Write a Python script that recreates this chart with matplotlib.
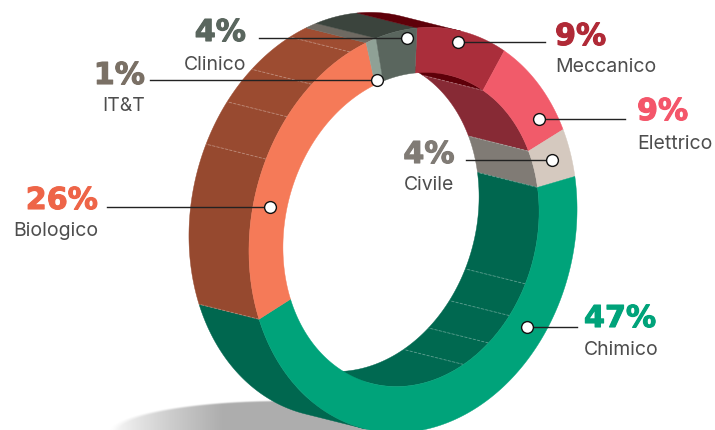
import numpy as np
import matplotlib
matplotlib.use("Agg")
import matplotlib.pyplot as plt
import matplotlib.patheffects as pe
from matplotlib.colors import to_rgb
from matplotlib.patches import Polygon

# dati
categorie = ["Meccanico", "Elettrico", "Civile", "Chimico", "Biologico", "IT&T", "Clinico"]
quote = [9, 9, 4, 47, 26, 1, 4]
etichette = ["9%", "9%", "4%", "47%", "26%", "1%", "4%"]

# colori
col_fronte = ["#AA2E3B", "#F15B6A", "#D5C9BF", "#00A37A", "#F57A58", "#8FA196", "#5A665E"]
col_parete = ["#5E0009", "#872A35", "#807B75", "#00674F", "#96492F", "#6F6A62", "#3B443D"]
col_testo = ["#B02A37", "#F4566A", "#807B75", "#00A37A", "#EE6548", "#7A7065", "#5A665E"]

# anello: cerchio deformato, front face e spostamento della profondita
EST = dict(cx=413, cy=230, a=164, b=202, k=4, m=-16)
INT = dict(cx=411, cy=229.5, a=128, b=156.5, k=4, m=-13)
DX, DY = -60, -15

# facce della parete (gradi)
tagli_est = [295, 308.5, 320.5, 336]
tagli_int = [115, 128, 141, 154]

# pallini: angolo e frazione fra bordo interno ed esterno
pal_ang = [15.5, 57.4, 71.7, 127, 281.8, 343, 356.5]
pal_fr = [0.76, 0.57, 0.49, 0.53, 0.49, 0.08, 0.8]

# testi: x, y percentuale, y nome, allineamento, fine della linea guida
testo_x = [555, 637, 429, 584, 98, 145, 246]
testo_y = [45, 120, 163, 327, 209, 84, 41]
nome_y = [72, 149, 190, 355, 236, 111, 70]
testo_ha = ["left", "left", "center", "left", "right", "right", "right"]
linea_x = [545, 625, 466, 577, 107, 150, 259]


def punto(e, t):
    t = np.radians(t)
    x = e["cx"] + e["a"] * np.sin(t) + e["k"] * np.cos(t)
    y = e["cy"] - e["b"] * np.cos(t) + e["m"] * np.sin(t)
    return x, y


def arco(e, t1, t2):
    t = np.linspace(t1, t2, max(int(abs(t2 - t1) * 2), 2))
    return np.column_stack(punto(e, t))


def silhouette(e):
    # angolo dove il bordo e parallelo alla profondita
    return np.degrees(np.arctan2(abs(e["a"] * DY) + abs(e["m"] * DX), abs(e["k"] * DY) + abs(e["b"] * DX)))


def parete(ax, e, t1, t2, colore, z):
    fronte = arco(e, t1, t2)
    retro = fronte[::-1] + [DX, DY]
    ax.add_patch(Polygon(np.vstack([fronte, retro]), fc=colore, ec=colore, lw=0.3, zorder=z))


def schiarisci(colore, f):
    c = np.array(to_rgb(colore))
    return tuple(np.clip(c * (1 + f), 0, 1))


def trattino(ax, e, t):
    x, y = punto(e, t)
    ax.plot([x, x + DX], [y, y + DY], color="white", alpha=0.28, lw=0.7, ls=(0, (3, 1.5)), zorder=4)


fig = plt.figure(figsize=(7.15, 4.3), dpi=100)
ax = fig.add_axes([0, 0, 1, 1])
ax.set_xlim(0, 715)
ax.set_ylim(430, 0)
ax.axis("off")

# ombra a terra
xx, yy = np.meshgrid(np.linspace(100, 400, 300), np.linspace(395, 430, 70))
maschera = np.clip((1 - ((xx - 285) / 178) ** 2 - ((yy - 434) / 34) ** 2) * 10, 0, 1)
sfuma = np.clip((xx - 108) / 115, 0, 1) ** 0.8
ombra = np.zeros(xx.shape + (4,))
ombra[..., :3] = 0.68
ombra[..., 3] = maschera * sfuma
ax.imshow(ombra, extent=(100, 400, 430, 395), aspect="auto", zorder=1, interpolation="bilinear")
ax.set_xlim(0, 715)
ax.set_ylim(430, 0)

# confini degli spicchi, da ore 12 in senso orario
limiti = np.concatenate([[0], np.cumsum(quote)]) * 360 / sum(quote)

s_est = silhouette(EST)
s_int = silhouette(INT)

# pareti esterne, visibili a sinistra
for i in range(len(quote)):
    t1 = max(limiti[i], s_est + 180)
    t2 = limiti[i + 1]
    if t2 > t1:
        if categorie[i] == "Biologico":
            bordi = [t1] + tagli_est + [t2]
            for j in range(len(bordi) - 1):
                parete(ax, EST, bordi[j], bordi[j + 1], schiarisci(col_parete[i], 0.015 * j), 2)
        else:
            parete(ax, EST, t1, t2, col_parete[i], 2)
# spicchio Meccanico: prosegue oltre lo zero fino alla silhouette
parete(ax, EST, 0, s_est, col_parete[0], 2)

# pareti interne, visibili a destra
for i in range(len(quote)):
    t1 = max(limiti[i], s_int)
    t2 = min(limiti[i + 1], s_int + 180)
    if t2 > t1:
        if categorie[i] == "Chimico":
            bordi = [t1] + tagli_int + [t2]
            for j in range(len(bordi) - 1):
                parete(ax, INT, bordi[j], bordi[j + 1], schiarisci(col_parete[i], 0.006 * j), 3)
        else:
            parete(ax, INT, t1, t2, col_parete[i], 3)

for t in tagli_est:
    trattino(ax, EST, t)
for t in tagli_int:
    trattino(ax, INT, t)
for t in [limiti[1], limiti[2], limiti[3]]:
    trattino(ax, INT, t)
trattino(ax, EST, limiti[4])

# faccia frontale
for i in range(len(quote)):
    poli = np.vstack([arco(EST, limiti[i], limiti[i + 1]), arco(INT, limiti[i + 1], limiti[i])])
    ax.add_patch(Polygon(poli, fc=col_fronte[i], ec=col_fronte[i], lw=0.3, zorder=5))

# linee guida, pallini e testi
for i in range(len(quote)):
    xe, ye = punto(EST, pal_ang[i])
    xi, yi = punto(INT, pal_ang[i])
    xp = xi + (xe - xi) * pal_fr[i]
    yp = yi + (ye - yi) * pal_fr[i]
    ax.plot([xp, linea_x[i]], [yp, yp], color="#222222", lw=1.0, zorder=6)
    ax.plot(xp, yp, "o", ms=8.5, mfc="white", mec="#111111", mew=1.0, zorder=7)
    t = ax.text(testo_x[i], testo_y[i], etichette[i], color=col_testo[i], fontsize=21.7, fontweight="bold",
                family="DejaVu Sans", ha=testo_ha[i], va="baseline", zorder=8)
    t.set_path_effects([pe.withStroke(linewidth=0.8, foreground=col_testo[i])])
    ax.text(testo_x[i], nome_y[i], categorie[i], color="#4D4D4D", fontsize=14,
            family="Inter", ha=testo_ha[i], va="baseline", zorder=8)

fig.savefig("out.png", dpi=100)
